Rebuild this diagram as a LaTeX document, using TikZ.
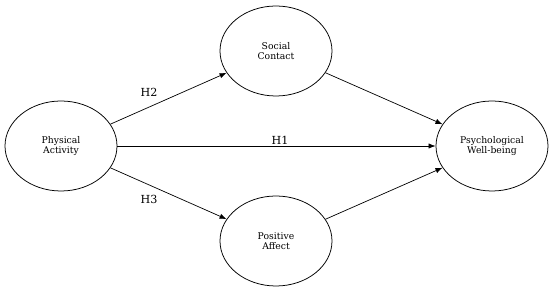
\documentclass[tikz,border=0pt]{standalone}
\usepackage{fontspec}
\setmainfont{DejaVu Serif}
\usetikzlibrary{shapes.geometric, arrows.meta}

\begin{document}
\begin{tikzpicture}[x=0.03cm, y=-0.03cm,
      construct/.style={draw, ellipse, line width=0.65pt, inner sep=0pt,
         minimum width=3.36cm, minimum height=2.7cm, align=center,
         font=\fontsize{7.9}{9}\selectfont},
      path/.style={-{Latex[length=6pt, width=4.5pt]}, line width=0.6pt},
      hyp/.style={font=\fontsize{9.5}{10}\selectfont}]
   \useasboundingbox (0,0) rectangle (550,292);
   % Constructs
   \node[construct] (pa)  at (61,146)  {Physical\\Activity};
   \node[construct] (sc)  at (276,51)  {Social\\Contact};
   \node[construct] (paf) at (276,241) {Positive\\Affect};
   \node[construct] (pwb) at (492,146) {Psychological\\Well-being};
   % Paths
   \draw[path] (pa) -- (sc);
   \draw[path] (pa) -- (pwb);
   \draw[path] (pa) -- (paf);
   \draw[path] (sc) -- (pwb);
   \draw[path] (paf) -- (pwb);
   % Hypothesis labels
   \node[hyp] (h1) at (280,140) {H1};
   \node[hyp] (h2) at (149,92)  {H2};
   \node[hyp] (h3) at (149,199) {H3};
\end{tikzpicture}
\end{document}
